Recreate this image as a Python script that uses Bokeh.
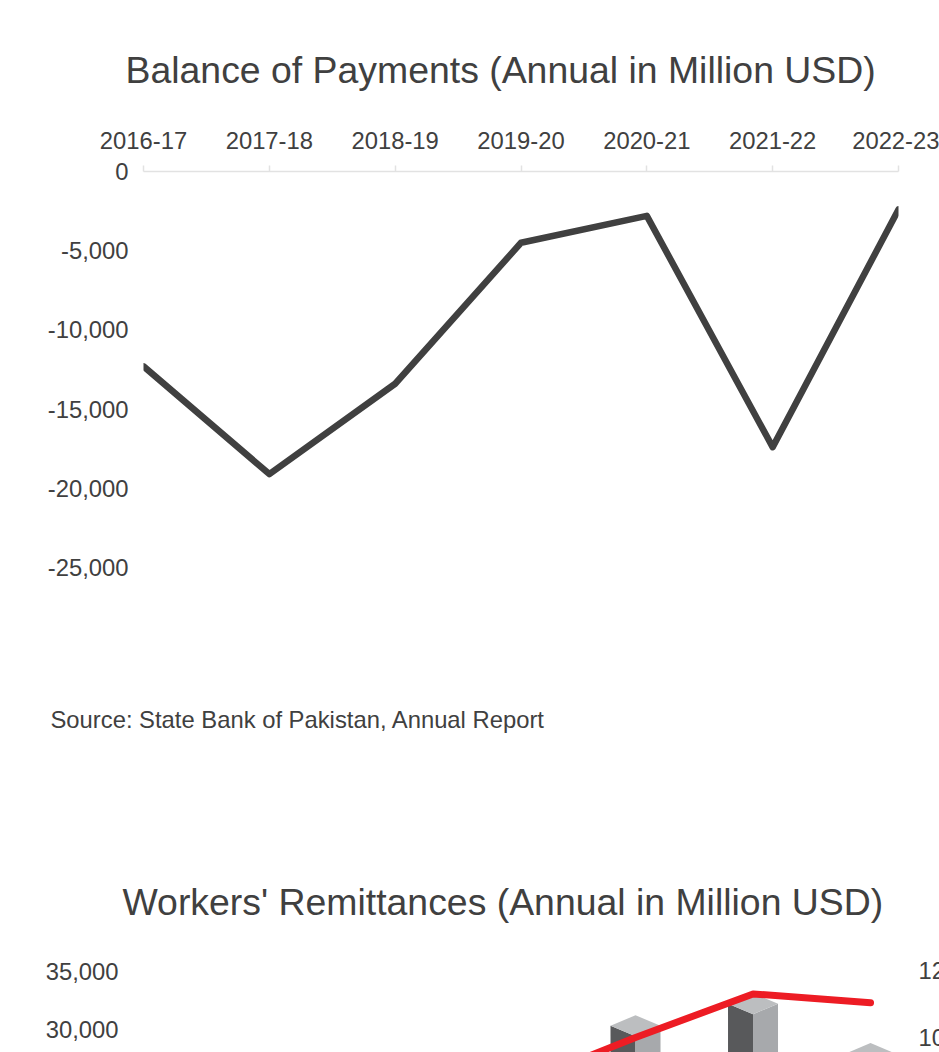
from bokeh.plotting import figure
from bokeh.models import Range1d, FixedTicker, Title, NumeralTickFormatter
from bokeh.core.properties import value
from bokeh.embed import file_html
from bokeh.resources import INLINE

# ---------------- data ----------------
years = ["2016-17", "2017-18", "2018-19", "2019-20", "2020-21", "2021-22", "2022-23"]
bop = [-12300, -19100, -13400, -4500, -2800, -17400, -2400]
bop_ticks = [0, -5000, -10000, -15000, -20000, -25000]

remittances = [19351, 19914, 21739, 23131, 29400, 31300, 27000]
red_series = [8000, 8200, 8400, 8600, 10000, 11300, 11040]
left_ticks = [0, 5000, 10000, 15000, 20000, 25000, 30000, 35000]
right_ticks = [0, 2000, 4000, 6000, 8000, 10000, 12000]

title1 = "Balance of Payments (Annual in Million USD)"
title2 = "Workers' Remittances (Annual in Million USD)"
source = "Source: State Bank of Pakistan, Annual Report"

FONT = "Liberation Sans"
TXT = "#404040"
TICK_FS = "23.8px"
TITLE_FS = "37.4px"

W = 939

# ---------------- chart 1 ----------------
H1 = 819
p1 = figure(width=W, height=H1, output_backend="svg", toolbar_location=None,
            x_range=Range1d(0, len(years) - 1), y_range=Range1d(-33333, 0),
            x_axis_location="above", min_border_left=143, min_border_right=41,
            min_border_top=171, min_border_bottom=120)
p1.title = Title(text=title1, align="left", offset=-18, vertical_align="middle", standoff=74,
                 text_font=FONT, text_font_size=TITLE_FS, text_font_style="normal",
                 text_color=TXT)
p1.add_layout(Title(text=source, align="left", offset=-93, vertical_align="middle", standoff=10,
                    text_font=FONT, text_font_size=TICK_FS, text_font_style="normal",
                    text_color=TXT), "below")
p1.outline_line_color = None
p1.grid.visible = False

xa = p1.xaxis[0]
xa.ticker = FixedTicker(ticks=list(range(len(years))))
xa.major_label_overrides = {i: y for i, y in enumerate(years)}
xa.axis_line_color = "#e2e2e2"
xa.axis_line_width = 1.5
xa.major_tick_line_color = "#e2e2e2"
xa.major_tick_line_width = 1.5
xa.major_tick_out = 6
xa.major_tick_in = 0
xa.minor_tick_line_color = None
xa.major_label_standoff = 17
xa.major_label_text_font = FONT
xa.major_label_text_font_size = TICK_FS
xa.major_label_text_color = TXT

ya = p1.yaxis[0]
ya.ticker = FixedTicker(ticks=bop_ticks)
ya.formatter = NumeralTickFormatter(format="0,0")
ya.axis_line_color = None
ya.major_tick_line_color = None
ya.minor_tick_line_color = None
ya.major_tick_out = 0
ya.major_label_standoff = 15
ya.major_label_text_font = FONT
ya.major_label_text_font_size = TICK_FS
ya.major_label_text_color = TXT

p1.line(list(range(len(years))), bop, line_color="#404040", line_width=6.5,
        line_join="round", line_cap="round")

# ---------------- chart 2 ----------------
H2 = 1052 - H1
px_per_cat = 117.5
xr2 = Range1d(-0.3149, 6.587)
y_left = Range1d(28000, 36100)
y_right = Range1d(9552, 12358)
p2 = figure(width=W, height=H2, output_backend="svg", toolbar_location=None,
            x_range=xr2, y_range=y_left,
            x_axis_location=None, min_border_left=128, min_border_right=0,
            min_border_top=958 - H1, min_border_bottom=0)
p2.title = Title(text=title2, align="left", offset=-6, vertical_align="middle", standoff=69,
                 text_font=FONT, text_font_size=TITLE_FS, text_font_style="normal",
                 text_color=TXT)
p2.outline_line_color = None
p2.grid.visible = False
p2.extra_y_ranges = {"right": y_right}

ya2 = p2.yaxis[0]
ya2.ticker = FixedTicker(ticks=left_ticks)
ya2.formatter = NumeralTickFormatter(format="0,0")
ya2.axis_line_color = None
ya2.major_tick_line_color = None
ya2.minor_tick_line_color = None
ya2.major_tick_out = 0
ya2.major_label_standoff = 10
ya2.major_label_text_font = FONT
ya2.major_label_text_font_size = TICK_FS
ya2.major_label_text_color = TXT

# 3D-looking bars (half width in x units, depth offset in y units)
hw = 25 / px_per_cat
dz = 905
xs_left, ys_left, xs_right, ys_right, xs_top, ys_top = [], [], [], [], [], []
for i, v in enumerate(remittances):
    xs_left.append([i - hw, i, i, i - hw])
    ys_left.append([dz, 0, v, v + dz])
    xs_right.append([i, i + hw, i + hw, i])
    ys_right.append([0, dz, v + dz, v])
    xs_top.append([i - hw, i, i + hw, i])
    ys_top.append([v + dz, v, v + dz, v + 2 * dz])
p2.patches(xs_left, ys_left, fill_color="#58595b", line_color=None)
p2.patches(xs_right, ys_right, fill_color="#a7a9ac", line_color=None)
p2.patches(xs_top, ys_top, fill_color="#bcbec0", line_color=None)

p2.line(list(range(len(years))), red_series, y_range_name="right", line_color="#ed1c24",
        line_width=7, line_join="round", line_cap="round")

# right-hand axis labels (the axis sits at the window's edge)
rt = [t for t in right_ticks if y_right.start <= t <= y_right.end]
label_x = xr2.end - 21 / px_per_cat
p2.text(x=[label_x] * len(rt), y=rt, text=[f"{t:,}" for t in rt], y_range_name="right",
        text_align="left", text_baseline="middle", text_font=value(FONT),
        text_font_size=TICK_FS, text_color=TXT)

open("out.html", "w").write(file_html([p1, p2], INLINE))
